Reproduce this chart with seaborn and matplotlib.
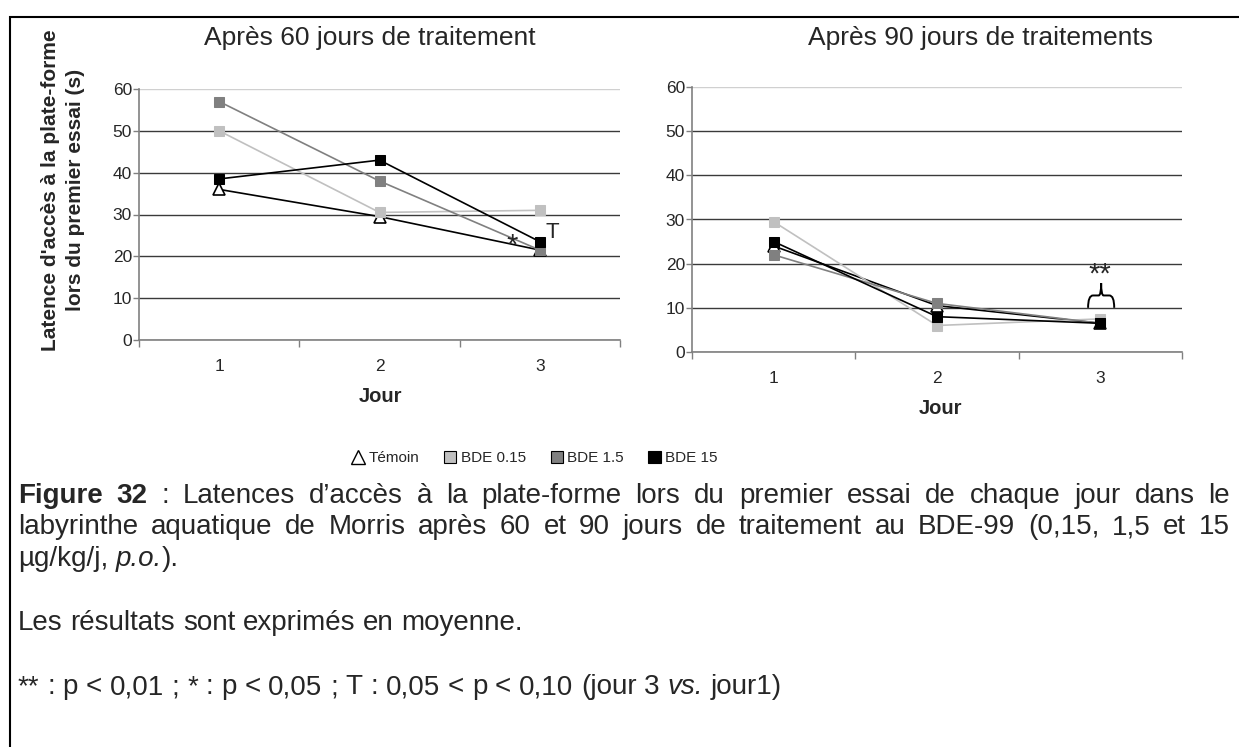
import matplotlib.pyplot as plt
from matplotlib.lines import Line2D
from matplotlib.patches import Patch, Rectangle, PathPatch
from matplotlib.path import Path
import seaborn as sns

# jours de test et groupes
jours = [1, 2, 3]
groupes = ["Témoin", "BDE 0.15", "BDE 1.5", "BDE 15"]

# latences moyennes (s), après 60 jours de traitement
j60_temoin = [36.0, 29.5, 21.5]
j60_bde_0_15 = [50.0, 30.5, 31.0]
j60_bde_1_5 = [57.0, 38.0, 21.5]
j60_bde_15 = [38.5, 43.0, 23.5]

# latences moyennes (s), après 90 jours de traitement
j90_temoin = [24.0, 10.5, 6.5]
j90_bde_0_15 = [29.5, 6.0, 7.5]
j90_bde_1_5 = [22.0, 11.0, 6.5]
j90_bde_15 = [25.0, 8.0, 6.5]

graduations = [0, 10, 20, 30, 40, 50, 60]

W, H = 1239, 747

sns.set_theme(style="white")
plt.rcParams["font.family"] = ["Liberation Sans", "DejaVu Sans"]

couleurs = {"Témoin": "black", "BDE 0.15": "#c0c0c0", "BDE 1.5": "#808080", "BDE 15": "black"}

fig = plt.figure(figsize=(W / 100, H / 100), dpi=100)
ax1 = fig.add_axes([139 / W, 1 - 340 / H, (620 - 139) / W, (340 - 89) / H])
ax2 = fig.add_axes([692 / W, 1 - 352 / H, (1182 - 692) / W, (352 - 87) / H])


def panneau(ax, series):
    for g, vals in zip(groupes, series):
        c = couleurs[g]
        if g == "Témoin":
            sns.lineplot(x=jours, y=vals, ax=ax, color=c, linewidth=1.2, marker="^",
                         markersize=8, markerfacecolor="white", markeredgecolor="black",
                         markeredgewidth=1.2, zorder=3)
        else:
            sns.lineplot(x=jours, y=vals, ax=ax, color=c, linewidth=1.2, marker="s",
                         markersize=7, markerfacecolor=c, markeredgecolor=c, zorder=4)
    ax.set_xlim(0.5, 3.5)
    ax.set_ylim(0, 60)
    ax.set_yticks(graduations)
    ax.set_xticks(jours)
    ax.set_xticks([0.5, 1.5, 2.5, 3.5], minor=True)
    ax.set_xlabel("")
    ax.set_ylabel("")
    ax.grid(axis="y", color="#3a3a3a", linewidth=1)
    ax.yaxis.get_gridlines()[-1].set_color("#d0d0d0")
    for s in ["top", "right"]:
        ax.spines[s].set_visible(False)
    for s in ["left", "bottom"]:
        ax.spines[s].set_color("#808080")
        ax.spines[s].set_linewidth(1.2)
    ax.tick_params(axis="y", which="major", left=True, length=4, width=1, color="#808080",
                   pad=1, labelsize=12.5)
    ax.tick_params(axis="x", which="major", bottom=False, length=0, pad=14, labelsize=12.5)
    ax.tick_params(axis="x", which="minor", bottom=True, length=5, width=1, color="#808080")


panneau(ax1, [j60_temoin, j60_bde_0_15, j60_bde_1_5, j60_bde_15])
panneau(ax2, [j90_temoin, j90_bde_0_15, j90_bde_1_5, j90_bde_15])

# significativités
ax1.text(2.83, 22.6, "*", fontsize=21, ha="center", va="center", zorder=5)
ax1.text(3.08, 25.8, "T", fontsize=16, ha="center", va="center", zorder=5)
ax2.text(3.0, 17.6, "**", fontsize=21, ha="center", va="center", zorder=5)
accolade = Path(
    [(2.925, 10), (2.925, 12.8), (2.955, 12.8), (2.99, 12.8), (3.005, 12.8), (3.005, 15.6),
     (3.005, 12.8), (3.02, 12.8), (3.055, 12.8), (3.085, 12.8), (3.085, 10)],
    [Path.MOVETO, Path.CURVE3, Path.CURVE3, Path.LINETO, Path.CURVE3, Path.CURVE3,
     Path.CURVE3, Path.CURVE3, Path.LINETO, Path.CURVE3, Path.CURVE3])
ax2.add_patch(PathPatch(accolade, fill=False, lw=1.4, ec="black", zorder=5))

# titres et libellés
fig.text(370 / W, 1 - 38 / H, "Après 60 jours de traitement", fontsize=19, ha="center", va="center")
fig.text(980 / W, 1 - 38 / H, "Après 90 jours de traitements", fontsize=19, ha="center", va="center")
fig.text(63 / W, 1 - 190 / H, "Latence d'accès à la plate-forme\nlors du premier essai (s)",
         rotation=90, fontsize=15, fontweight="bold", ha="center", va="center",
         multialignment="center", linespacing=1.4)
fig.text(380 / W, 1 - 397 / H, "Jour", fontsize=14.5, fontweight="bold", ha="center", va="center")
fig.text(940 / W, 1 - 408 / H, "Jour", fontsize=14.5, fontweight="bold", ha="center", va="center")

# légende
poignees = [Line2D([], [], marker="^", ls="none", markersize=10, markerfacecolor="white",
                   markeredgecolor="black", markeredgewidth=1)]
poignees += [Patch(facecolor=couleurs[g], edgecolor="black", linewidth=0.8) for g in groupes[1:]]
fig.legend(poignees, groupes, loc="center", bbox_to_anchor=(535 / W, 1 - 458 / H), ncol=4,
           frameon=False, fontsize=11, handlelength=0.8, handleheight=0.8,
           handletextpad=0.3, columnspacing=1.6)

# cadre
fig.add_artist(Rectangle((10 / W, -0.05), 1.1, 1.05 - 17 / H, transform=fig.transFigure,
                         fill=False, lw=1.5, ec="black"))

# texte de la figure, justifié mot à mot
rendu = fig.canvas.get_renderer()
TAILLE = 20


def largeur(txt, **kw):
    t = fig.text(0, 0, txt, fontsize=TAILLE, **kw)
    w = t.get_window_extent(rendu).width
    t.remove()
    return w


espace = largeur("a a") - largeur("aa")


def ligne(y, mots, justifier):
    textes, largeurs = [], []
    for mot in mots:
        morceaux = []
        for txt, poids, style in mot:
            t = fig.text(0, 1 - y / H, txt, fontsize=TAILLE, fontweight=poids, fontstyle=style,
                         ha="left", va="center")
            morceaux.append(t)
        textes.append(morceaux)
        largeurs.append([t.get_window_extent(rendu).width for t in morceaux])
    total = sum(sum(l) for l in largeurs)
    ecart = (1230 - 18 - total) / (len(mots) - 1) if justifier else espace
    x = 18
    for morceaux, ls in zip(textes, largeurs):
        for t, w in zip(morceaux, ls):
            t.set_x(x / W)
            x += w
        x += ecart


def simples(phrase):
    return [[(m, "normal", "normal")] for m in phrase.split()]


ligne(496, [[("Figure", "bold", "normal")], [("32", "bold", "normal")]]
      + simples(": Latences d’accès à la plate-forme lors du premier essai de chaque jour dans le"), True)
ligne(527, simples("labyrinthe aquatique de Morris après 60 et 90 jours de traitement au BDE-99 (0,15, 1,5 et 15"), True)
ligne(559, simples("µg/kg/j,") + [[("p.o.", "normal", "italic"), (").", "normal", "normal")]], False)
ligne(623, simples("Les résultats sont exprimés en moyenne."), False)
ligne(687, simples("** : p < 0,01 ; * : p < 0,05 ; T : 0,05 < p < 0,10 (jour 3")
      + [[("vs.", "normal", "italic")]] + simples("jour1)"), False)

fig.savefig("out.png", dpi=100)
